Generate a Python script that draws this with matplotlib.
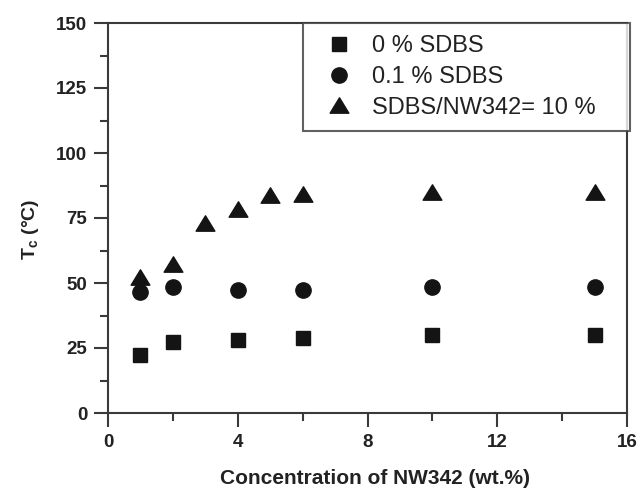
import numpy as np
import matplotlib
matplotlib.use('Agg')
import matplotlib.pyplot as plt
from matplotlib.ticker import MultipleLocator
from matplotlib.path import Path

plt.rcParams['font.family'] = ['Liberation Sans', 'DejaVu Sans']
plt.rcParams['mathtext.fontset'] = 'custom'
plt.rcParams['mathtext.rm'] = 'Liberation Sans:bold'
plt.rcParams['mathtext.it'] = 'Liberation Sans:bold'
plt.rcParams['mathtext.bf'] = 'Liberation Sans:bold'

# NW342 loading (wt.%) and cloud-point temperature Tc (degC)
conc_sq = [1, 2, 4, 6, 10, 15]
tc_sq = [22.4, 27.4, 28.2, 28.8, 29.9, 30.0]

conc_ci = [1, 2, 4, 6, 10, 15]
tc_ci = [46.4, 48.5, 47.3, 47.3, 48.6, 48.6]

conc_tr = [1, 2, 3, 4, 5, 6, 10, 15]
tc_tr = [52.5, 57.3, 73.0, 78.5, 84.0, 84.4, 84.9, 84.9]

labels = ['0 % SDBS', '0.1 % SDBS', 'SDBS/NW342= 10 %']

INK = '#141414'
AXC = '#3a3a3a'

# slightly squat triangle, wider than tall
tri = Path([(0, 0.82), (-1, -0.82), (1, -0.82), (0, 0.82)],
           [Path.MOVETO, Path.LINETO, Path.LINETO, Path.CLOSEPOLY])

fig = plt.figure(figsize=(6.37, 4.88), dpi=100)
ax = fig.add_axes([108 / 637, 75 / 488, 519 / 637, 390 / 488])

ax.plot(conc_sq, tc_sq, ls='none', marker='s', ms=9.5, color=INK, label=labels[0])
ax.plot(conc_ci, tc_ci, ls='none', marker='o', ms=11, color=INK, label=labels[1])
ax.plot(conc_tr, tc_tr, ls='none', marker=tri, ms=13.5, color=INK, label=labels[2])

ax.set_xlim(0, 16)
ax.set_ylim(0, 150)
ax.xaxis.set_major_locator(MultipleLocator(4))
ax.xaxis.set_minor_locator(MultipleLocator(2))
ax.yaxis.set_major_locator(MultipleLocator(25))
ax.yaxis.set_minor_locator(MultipleLocator(12.5))

for s in ax.spines.values():
    s.set_linewidth(1.5)
    s.set_color(AXC)
ax.tick_params(which='major', direction='out', length=10, width=1.5, color=AXC,
               labelsize=13.5, pad=5, labelcolor='#222222')
ax.tick_params(which='minor', direction='out', length=5.5, width=1.5, color=AXC)
for lab in ax.get_xticklabels() + ax.get_yticklabels():
    lab.set_fontweight('bold')

ax.set_xlabel('Concentration of NW342 (wt.%)', fontsize=15, fontweight='bold',
              color='#222222')
ax.xaxis.set_label_coords(0.515, -0.143)
ax.set_ylabel('T$_c$ (°C)', fontsize=14, fontweight='bold', color='#222222')
ax.yaxis.set_label_coords(-0.13, 0.47)

leg = ax.legend(loc='upper left', bbox_to_anchor=(0.376, 1.0, 0.63, 0.0),
                mode='expand', borderaxespad=0, fancybox=False, fontsize=17,
                handlelength=2.0, handletextpad=0.4, labelspacing=0.38,
                borderpad=0.5, frameon=True)
leg.get_frame().set_edgecolor(AXC)
leg.get_frame().set_linewidth(1.5)
for t in leg.get_texts():
    t.set_color('#222222')

fig.savefig('out.png', dpi=100)
